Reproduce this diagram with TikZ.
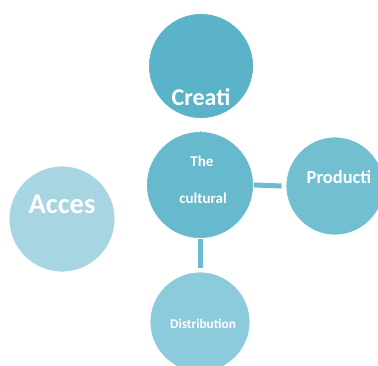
\documentclass[tikz,border=0pt]{standalone}
\usepackage{fontspec}
\setmainfont{Carlito}
\definecolor{cA}{HTML}{5BB3C9}
\definecolor{cB}{HTML}{67B9CD}
\definecolor{cC}{HTML}{72BFD2}
\definecolor{cD}{HTML}{8CCBDB}
\definecolor{cE}{HTML}{A7D6E2}
\definecolor{cL}{HTML}{6BBCD0}
\begin{document}
\begin{tikzpicture}[x=1pt,y=-1pt,
  bub/.style={circle,inner sep=0pt,draw=white,line width=0.8pt},
  lbl/.style={text=white,font=\bfseries,anchor=base},
  link/.style={draw=cL,line width=5pt}]
\useasboundingbox (0,0) rectangle (378,365);
\node[bub,fill=cA,minimum size=105pt] (cre) at (201,66) {};
\node[bub,fill=cB,minimum size=107pt] (cul) at (200,185) {};
\node[bub,fill=cC,minimum size=98pt] (pro) at (335,186) {};
\node[bub,fill=cD,minimum size=100pt] (dis) at (200,322) {};
\node[bub,fill=cE,minimum size=106pt] (acc) at (62,219) {};
\draw[link] (cul.east) -- ([xshift=-4pt]pro.west);
\draw[link] (cul.south) -- ([yshift=4pt]dis.north);
\draw[draw=cL,line width=0.6pt] (cul.north) -- ([yshift=-3pt]cul.north);
\node[lbl,font=\bfseries\fontsize{24}{26}\selectfont] (t1) at (201,105) {Creati};
\node[lbl,font=\bfseries\fontsize{15}{17}\selectfont] (t2) at (202,166) {The};
\node[lbl,font=\bfseries\fontsize{15}{17}\selectfont] (t3) at (203,203) {cultural};
\node[lbl,font=\bfseries\fontsize{18.5}{20}\selectfont] (t4) at (339,183) {Producti};
\node[lbl,font=\bfseries\fontsize{13.3}{15}\selectfont] (t5) at (203,328) {Distribution};
\node[lbl,font=\bfseries\fontsize{28.5}{30}\selectfont] (t6) at (62,213) {Acces};
\end{tikzpicture}
\end{document}
